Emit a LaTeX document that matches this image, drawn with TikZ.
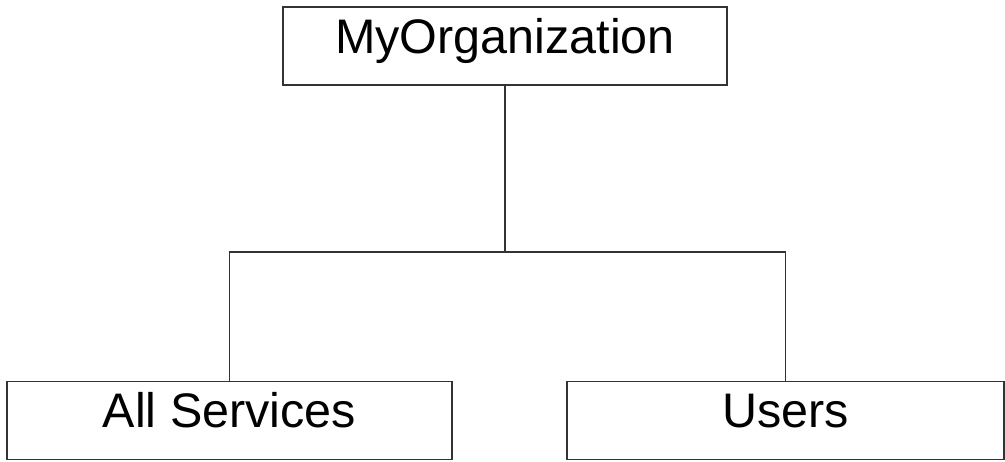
\documentclass[tikz,border=0pt]{standalone}
\usepackage{fontspec}
\setmainfont{Liberation Sans}
\tikzset{
	orgbox/.style={draw=black!80,line width=1.6pt,inner sep=0pt,minimum height=78pt,
		text height=35pt,text depth=21pt,font=\fontsize{48.5}{58}\selectfont},
	orgline/.style={draw=black!80,line width=1.6pt},
}
\begin{document}
\begin{tikzpicture}[x=1pt,y=-1pt]
		\useasboundingbox (0,0) rectangle (1005,461);
		\node[orgbox,minimum width=444pt] (org) at (505,46) {MyOrganization};
		\node[orgbox,minimum width=445pt] (services) at (229.5,420.5) {All Services};
		\node[orgbox,minimum width=437pt] (users) at (785.5,420.5) {Users};
		% tree connectors
		\draw[orgline] (org.south) -- ++(0,166) coordinate (split);
		\draw[orgline] (services.north) |- (split) -| (users.north);
	\end{tikzpicture}
\end{document}
